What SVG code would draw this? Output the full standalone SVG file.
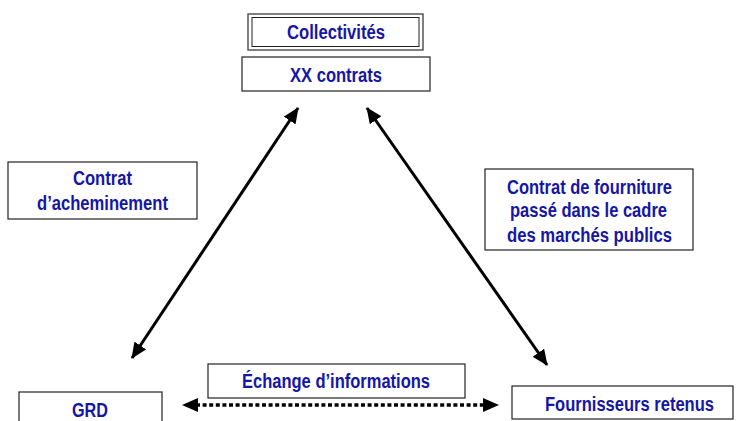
<svg xmlns="http://www.w3.org/2000/svg" width="737" height="421" viewBox="0 0 737 421">
<defs>
<style>
.box{fill:#fff;stroke:#222;stroke-width:1.2}
.t{font-family:"Liberation Sans Narrow","Liberation Sans",Arial,sans-serif;font-weight:bold;font-size:20px;fill:#1616a6;text-anchor:middle}
.arr{stroke:#000;stroke-width:3;fill:none}
.dot{stroke:#000;stroke-width:3.5;fill:none;stroke-dasharray:4 2.6}
</style>
<marker id="ah" markerUnits="userSpaceOnUse" markerWidth="16" markerHeight="14" refX="15" refY="7" orient="auto-start-reverse" viewBox="0 0 16 14">
<path d="M0,0 L16,7 L0,14 z" fill="#000"/>
</marker>
</defs>
<rect width="737" height="421" fill="#fff"/>
<g id="collectivites">
<rect x="248" y="14" width="175" height="36" fill="#fff" stroke="#555" stroke-width="1.5"/>
<rect x="252" y="17.5" width="167" height="29" fill="none" stroke="#222" stroke-width="1"/>
<text class="t" x="336" y="38.5" textLength="98" lengthAdjust="spacingAndGlyphs">Collectivités</text>
</g>
<g id="xx-contrats">
<rect class="box" x="242" y="57" width="188" height="34"/>
<text class="t" x="336" y="82" textLength="92" lengthAdjust="spacingAndGlyphs">XX contrats</text>
</g>
<g id="contrat-acheminement">
<rect class="box" x="8" y="162" width="189" height="57"/>
<text class="t" x="102.5" y="185" textLength="59" lengthAdjust="spacingAndGlyphs">Contrat</text>
<text class="t" x="102.5" y="209.5" textLength="131" lengthAdjust="spacingAndGlyphs">d’acheminement</text>
</g>
<g id="contrat-fourniture">
<rect class="box" x="485" y="169" width="208" height="81"/>
<text class="t" x="589.5" y="193.5" textLength="165" lengthAdjust="spacingAndGlyphs">Contrat de fourniture</text>
<text class="t" x="588.5" y="217" textLength="157" lengthAdjust="spacingAndGlyphs">passé dans le cadre</text>
<text class="t" x="589.5" y="241.5" textLength="165" lengthAdjust="spacingAndGlyphs">des marchés publics</text>
</g>
<g id="grd">
<rect class="box" x="19" y="392" width="143" height="40"/>
<text class="t" x="90" y="417" textLength="36" lengthAdjust="spacingAndGlyphs">GRD</text>
</g>
<g id="echange">
<rect class="box" x="208" y="364" width="257" height="34"/>
<text class="t" x="336" y="388" textLength="188" lengthAdjust="spacingAndGlyphs">Échange d’informations</text>
</g>
<g id="fournisseurs">
<rect class="box" x="512" y="386" width="221" height="33"/>
<text class="t" x="629.5" y="411" textLength="169" lengthAdjust="spacingAndGlyphs">Fournisseurs retenus</text>
</g>
<g id="connectors">
<line class="arr" x1="298" y1="108" x2="132" y2="358" marker-start="url(#ah)" marker-end="url(#ah)"/>
<line class="arr" x1="367" y1="108" x2="547" y2="365" marker-start="url(#ah)" marker-end="url(#ah)"/>
<line class="dot" x1="196" y1="405" x2="485" y2="405"/>
<line x1="195" y1="405" x2="183" y2="405" stroke="none" marker-end="url(#ah)"/>
<line x1="486" y1="405" x2="498" y2="405" stroke="none" marker-end="url(#ah)"/>
</g>
</svg>
